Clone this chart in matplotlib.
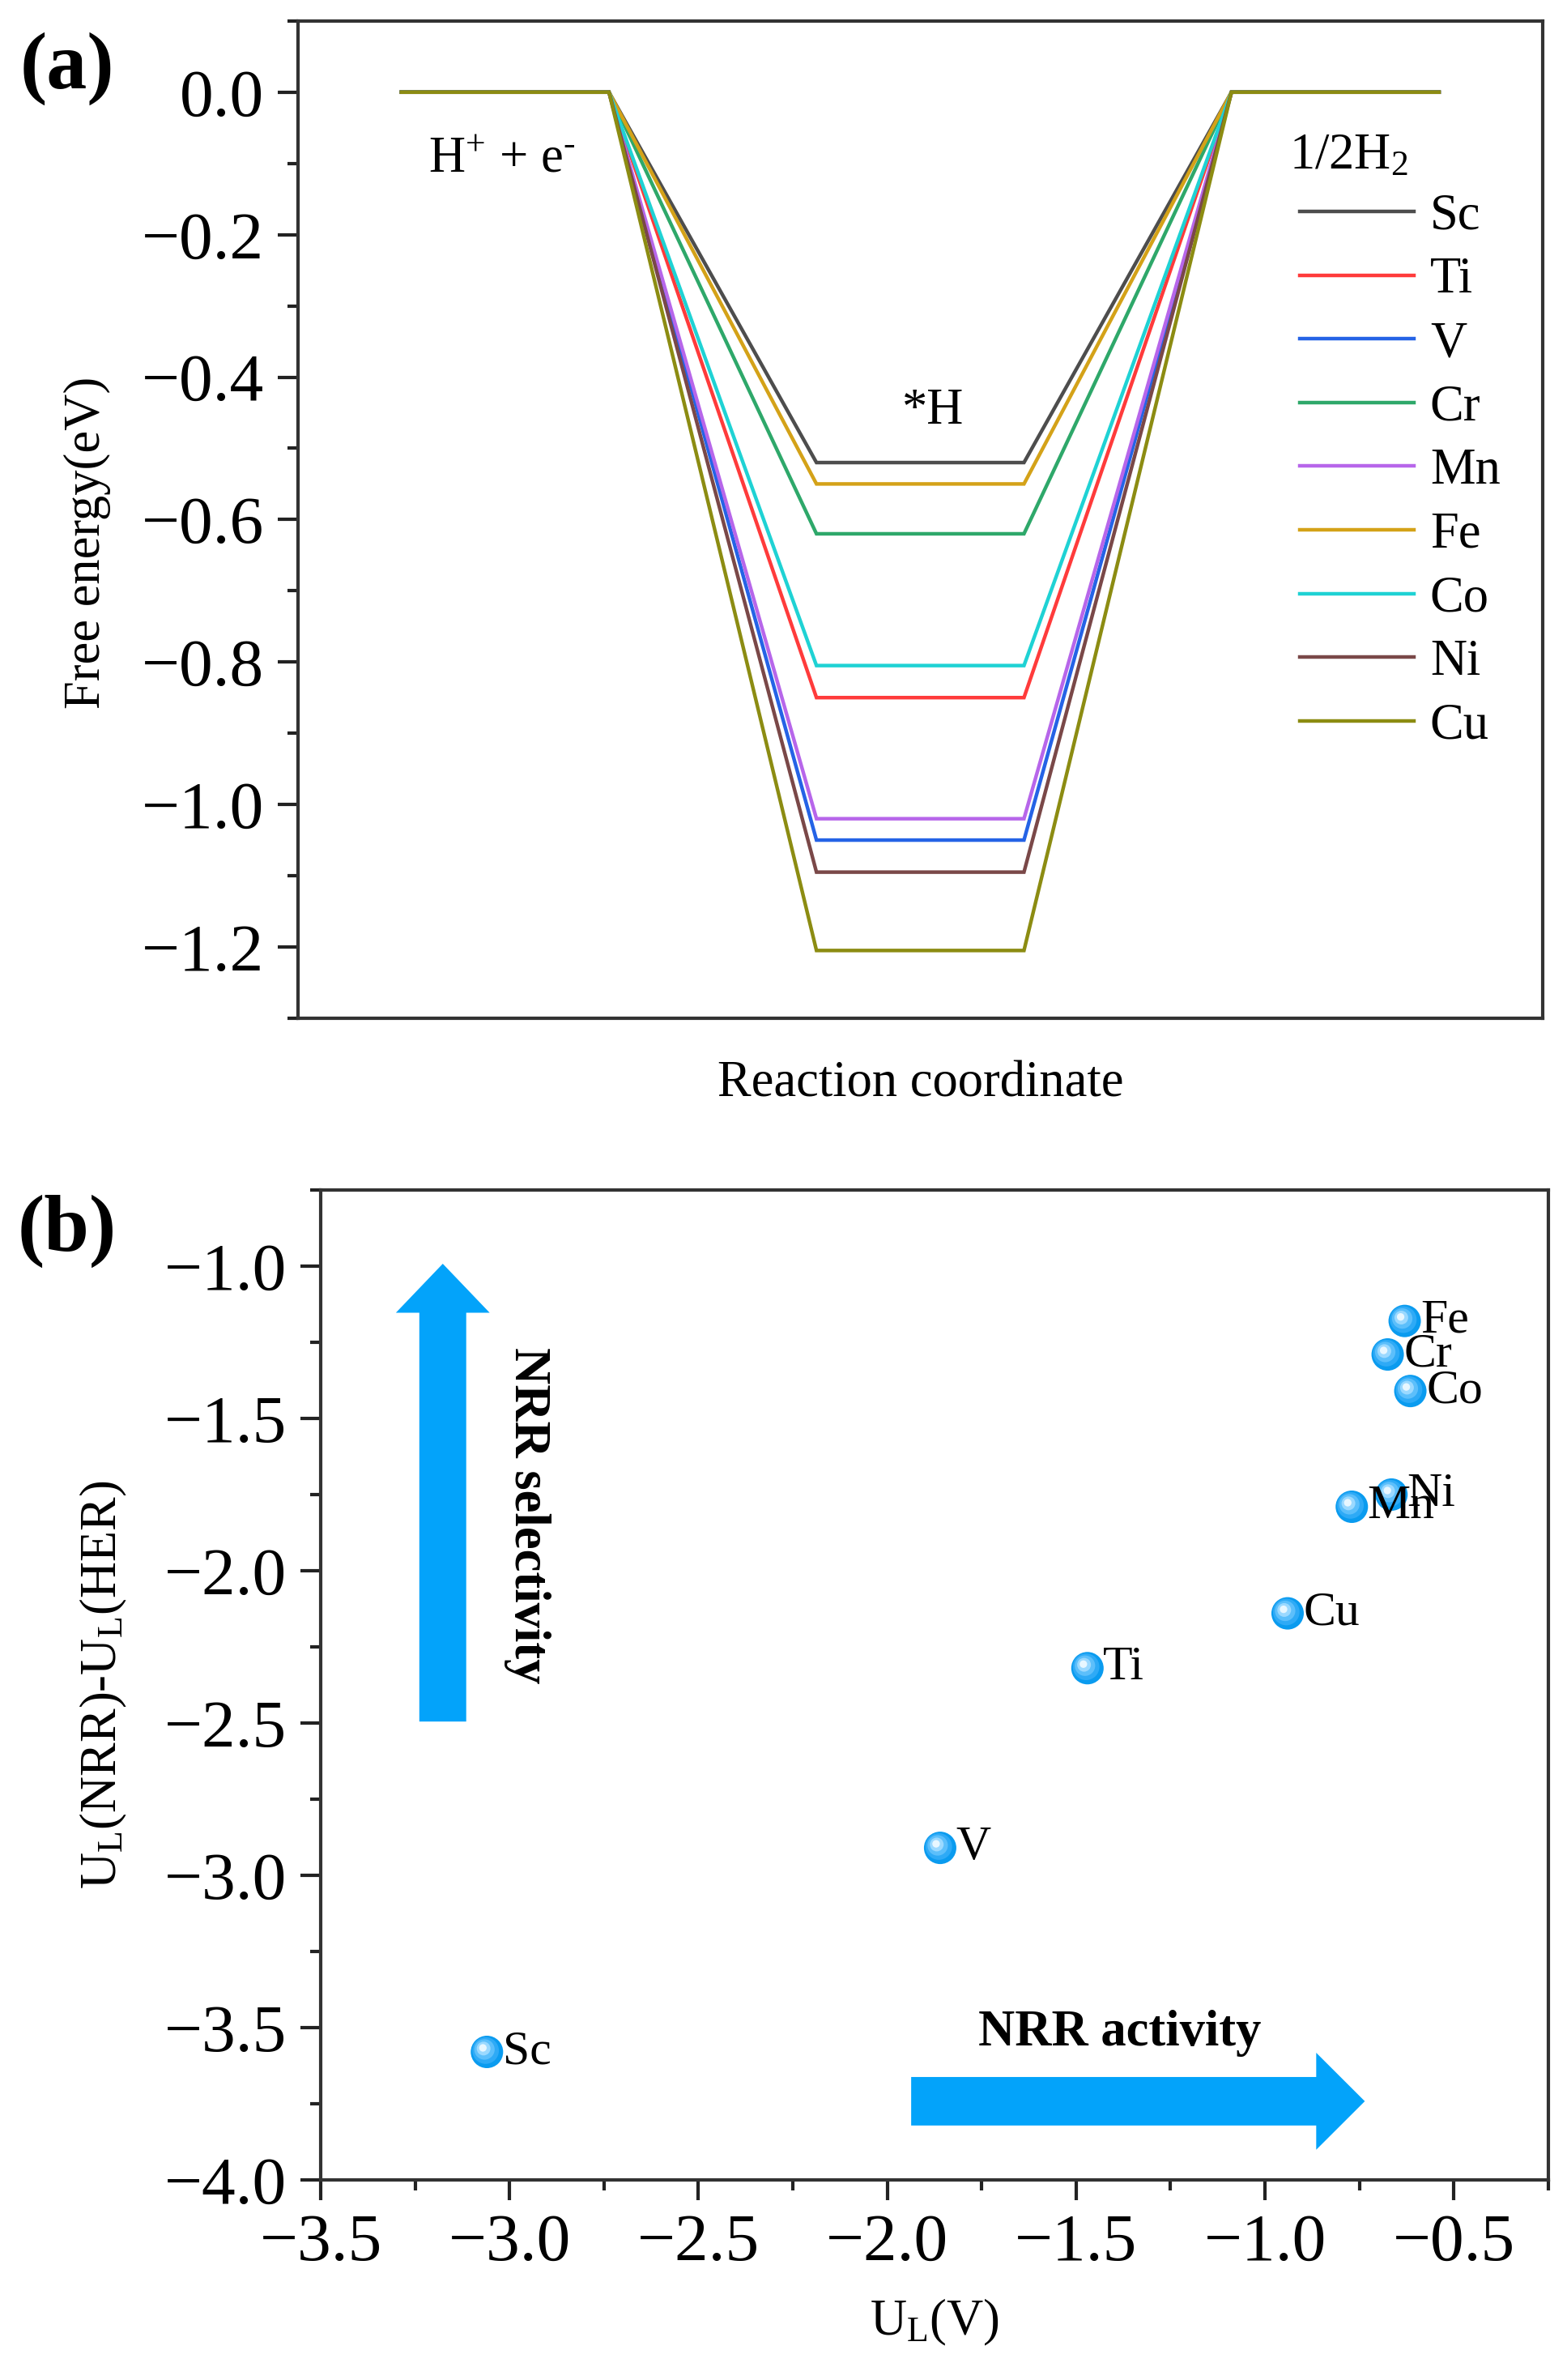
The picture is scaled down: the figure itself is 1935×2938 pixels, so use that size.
import numpy as np
import matplotlib
matplotlib.use("Agg")
import matplotlib.pyplot as plt
from matplotlib.ticker import MultipleLocator, AutoMinorLocator, FuncFormatter
from matplotlib.patches import Polygon
from matplotlib.transforms import offset_copy

plt.rcParams["font.family"] = ["Liberation Serif", "DejaVu Serif"]
plt.rcParams["mathtext.fontset"] = "custom"
plt.rcParams["mathtext.rm"] = "Liberation Serif"
plt.rcParams["mathtext.it"] = "Liberation Serif:italic"
plt.rcParams["mathtext.bf"] = "Liberation Serif:bold"

# ---------------- data ----------------
metals = ["Sc", "Ti", "V", "Cr", "Mn", "Fe", "Co", "Ni", "Cu"]
line_colors = ["#4d4d4d", "#ff3b3b", "#2563e6", "#2ea86a", "#b766ea",
               "#d4a218", "#1fd2d4", "#7a4848", "#8c8c12"]

# (a) free energy of *H adsorption (eV)
dG_H = [-0.52, -0.85, -1.05, -0.62, -1.02, -0.55, -0.805, -1.095, -1.205]

# (b) limiting potentials
UL_NRR = [-3.06, -1.47, -1.86, -0.675, -0.77, -0.63, -0.615, -0.665, -0.94]
UL_diff = [-3.58, -2.32, -2.91, -1.29, -1.79, -1.18, -1.41, -1.75, -2.14]

fig = plt.figure(figsize=(19.35, 29.38), dpi=100)

TICK_FS = 60
LAB_FS = 45


def minus_fmt(v, pos):
    s = f"{v:.1f}"
    if s == "-0.0":
        s = "0.0"
    return s.replace("-", "\u2212")


def style_axes(ax):
    for sp in ax.spines.values():
        sp.set_linewidth(3)
        sp.set_color("#333333")
    ax.tick_params(which="major", direction="out", length=18, width=3,
                   labelsize=TICK_FS, pad=12, color="#222222")
    ax.tick_params(which="minor", direction="out", length=9.5, width=3,
                   color="#222222")
    ax.yaxis.set_major_formatter(FuncFormatter(minus_fmt))


# -----------------------------------------
# PANEL (a)
# -----------------------------------------
ax1 = fig.add_axes([0.190, 0.5722, 0.7945, 0.419])
xs = [0, 1, 2, 3, 4, 5]
for m, g, c in zip(metals, dG_H, line_colors):
    ax1.plot(xs, [0, 0, g, g, 0, 0], color=c, lw=3.2, label=m,
             solid_joinstyle="miter")

ax1.set_xlim(-0.5, 5.5)
ax1.set_ylim(-1.3, 0.1)
ax1.yaxis.set_major_locator(MultipleLocator(0.2))
ax1.yaxis.set_minor_locator(MultipleLocator(0.1))
ax1.set_xticks([])
style_axes(ax1)

ax1.set_ylabel("Free energy(eV)", fontsize=LAB_FS)
ax1.yaxis.set_label_coords(-0.15, 0.477)
ax1.set_xlabel("Reaction coordinate", fontsize=LAB_FS, labelpad=38)

ax1.text(0.13, -0.095, "H$^{+}$ + e$^{\u2010}$",
         fontsize=LAB_FS, ha="left", va="center")
ax1.text(2.56, -0.448, "*H", fontsize=LAB_FS, ha="center", va="center")
ax1.text(4.28, -0.09, r"1/2H$_{2}$", fontsize=LAB_FS, ha="left", va="center")

leg = ax1.legend(loc="upper left", bbox_to_anchor=(0.805, 0.827), frameon=False,
                 fontsize=LAB_FS, handlelength=2.25, handletextpad=0.32,
                 labelspacing=0.33, borderpad=0, borderaxespad=0)

fig.text(0.043, 0.971, "(a)", fontsize=72, fontweight="bold", ha="center", va="center")

# -----------------------------------------
# PANEL (b)
# -----------------------------------------
ax2 = fig.add_axes([0.2047, 0.0841, 0.7833, 0.4159])
ax2.set_xlim(-3.5, -0.25)
ax2.set_ylim(-4.0, -0.75)
ax2.xaxis.set_major_locator(MultipleLocator(0.5))
ax2.yaxis.set_major_locator(MultipleLocator(0.5))
ax2.xaxis.set_minor_locator(AutoMinorLocator(2))
ax2.yaxis.set_minor_locator(AutoMinorLocator(2))
style_axes(ax2)
ax2.xaxis.set_major_formatter(FuncFormatter(minus_fmt))

# shaded "sphere" markers
layers = [("#0a9bef", 830, 0.0), ("#2eaaf6", 560, -1.2), ("#5cbffb", 330, -2.2),
          ("#9bd9ff", 150, -3.0), ("#e8f7ff", 45, -3.6)]
for col, s, off in layers:
    tr = offset_copy(ax2.transData, fig=fig, x=off, y=-off, units="points")
    ax2.scatter(UL_NRR, UL_diff, s=s, color=col, edgecolors="none",
                transform=tr, zorder=3)

for m, x, y in zip(metals, UL_NRR, UL_diff):
    ax2.annotate(m, (x, y), xytext=(14, 0), textcoords="offset points",
                 ha="left", va="center", fontsize=43, zorder=4)

arrow_c = "#03a3fa"
# vertical arrow (axes fraction)
cx, hw = 0.0994, 0.0191
up = [(cx - hw, 0.463), (cx + hw, 0.463), (cx + hw, 0.876), (cx + 2 * hw, 0.876),
      (cx, 0.9255), (cx - 2 * hw, 0.876), (cx - hw, 0.876)]
ax2.add_patch(Polygon(up, closed=True, transform=ax2.transAxes,
                      facecolor=arrow_c, edgecolor="none", zorder=2))
# horizontal arrow
cy, sh = 0.0794, 0.0245
right = [(0.481, cy - sh), (0.811, cy - sh), (0.811, cy - 2 * sh), (0.8506, cy),
         (0.811, cy + 2 * sh), (0.811, cy + sh), (0.481, cy + sh)]
ax2.add_patch(Polygon(right, closed=True, transform=ax2.transAxes,
                      facecolor=arrow_c, edgecolor="none", zorder=2))

ax2.text(0.651, 0.148, "NRR activity", transform=ax2.transAxes, fontsize=LAB_FS,
         fontweight="bold", ha="center", va="center")
ax2.text(0.168, 0.671, "NRR selectivity", transform=ax2.transAxes, fontsize=LAB_FS,
         fontweight="bold", ha="center", va="center", rotation=270)

ax2.set_xlabel(r"U$_{\mathrm{L}}$(V)", fontsize=LAB_FS, labelpad=20)
ax2.set_ylabel(r"U$_{\mathrm{L}}$(NRR)-U$_{\mathrm{L}}$(HER)", fontsize=LAB_FS, labelpad=32)

fig.text(0.043, 0.4826, "(b)", fontsize=72, fontweight="bold", ha="center", va="center")

fig.savefig("out.png", dpi=100)
